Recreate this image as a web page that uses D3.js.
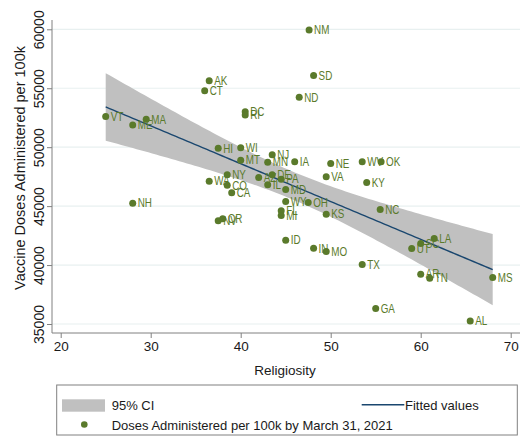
<!DOCTYPE html>
<html><head><meta charset="utf-8">
<script src="https://cdn.jsdelivr.net/npm/d3@7"></script>
<style>
body{margin:0;background:#fff;}
svg{display:block;}
text{font-family:"Liberation Sans",Arial,sans-serif;}
</style></head>
<body><svg id="c" width="528" height="436"></svg>
<script>
const states = ["VT","MA","ME","NH","AK","CT","DC","RI","HI","WI","MT","NJ","MN","IA","NE","VA","NY","WA","CO","CA","DE","AZ","PA","IL","MD","WY","OH","FL","MI","KS","NV","OR","ID","IN","MO","NM","SD","ND","WV","OK","KY","NC","LA","SC","UT","TX","AR","TN","MS","GA","AL"];
const religiosity = [25.0,29.5,28.0,28.0,36.5,36.0,40.5,40.5,37.5,40.0,40.0,43.5,43.0,46.0,50.0,49.5,38.5,36.5,38.5,39.0,43.5,42.0,44.5,43.0,45.0,45.0,47.5,44.5,44.5,49.5,37.5,38.0,45.0,48.1,49.5,47.6,48.1,46.5,53.5,55.6,54.0,55.5,61.5,60.0,59.0,53.5,60.0,61.0,68.0,55.0,65.5];
const doses = [52600,52360,51880,45250,55640,54790,53000,52720,49900,49950,48900,49350,48730,48760,48620,47490,47660,47120,46760,46130,47660,47430,47290,46810,46420,45400,45310,44600,44210,44320,43750,43920,42110,41430,41150,59950,56090,54230,48760,48760,47010,44720,42260,41830,41410,40050,39230,38890,38950,36310,35260];
const xTicks = [20,30,40,50,60,70];
const yTicks = [35000,40000,45000,50000,55000,60000];
const xTitle = "Religiosity";
const yTitle = "Vaccine Doses Administered per 100k";
const legendLabels = ["95% CI","Fitted values","Doses Administered per 100k by March 31, 2021"];

const GREEN = "#5a7a2b", NAVY = "#1a476f", BAND = "#c0c0c0", GRID = "#e8f0f0", AXIS = "#808080";
const svg = d3.select("#c");
const x = d3.scaleLinear().domain([20,70]).range([60.7,510.7]);
const y = d3.scaleLinear().domain([35000,60000]).range([324,29.3]);
const pLeft = 52, pRight = 520, pBottom = 333, pTop = 20;

// gridlines
svg.append("g").selectAll("line").data(yTicks).join("line")
  .attr("x1",pLeft).attr("x2",pRight).attr("y1",d=>y(d)).attr("y2",d=>y(d))
  .attr("stroke",GRID).attr("stroke-width",1.2);

// linear fit with 95% CI (as Stata lfitci)
const n = religiosity.length;
const mx = d3.mean(religiosity), my = d3.mean(doses);
let sxx=0, sxy=0;
for(let i=0;i<n;i++){sxx+=(religiosity[i]-mx)**2; sxy+=(religiosity[i]-mx)*(doses[i]-my);}
const b = sxy/sxx, a = my - b*mx;
let sse=0; for(let i=0;i<n;i++){sse+=(doses[i]-a-b*religiosity[i])**2;}
const s = Math.sqrt(sse/(n-2));
const tcrit = 2.0096;
const xmin = d3.min(religiosity), xmax = d3.max(religiosity);
const grid = d3.range(0,101).map(k=>xmin+(xmax-xmin)*k/100);
const fit = grid.map(v=>{const yh=a+b*v; const se=s*Math.sqrt(1/n+(v-mx)**2/sxx); return {x:v,y:yh,lo:yh-tcrit*se,hi:yh+tcrit*se};});

svg.append("path").datum(fit)
  .attr("d",d3.area().x(d=>x(d.x)).y0(d=>y(d.lo)).y1(d=>y(d.hi)))
  .attr("fill",BAND);
svg.append("path").datum(fit)
  .attr("d",d3.line().x(d=>x(d.x)).y(d=>y(d.y)))
  .attr("fill","none").attr("stroke",NAVY).attr("stroke-width",1.4);

// axes
const yAxis = svg.append("g").attr("transform",`translate(${pLeft},0)`)
  .call(d3.axisLeft(y).tickValues(yTicks).tickSize(5).tickFormat(d3.format("d")));
yAxis.attr("font-family",null);
yAxis.select(".domain").attr("d",`M0,${pTop}V${pBottom}`).attr("stroke",AXIS);
yAxis.selectAll(".tick line").attr("stroke",AXIS);
yAxis.selectAll(".tick text").attr("transform","rotate(-90)").attr("x",0).attr("y",-8).attr("dy",0)
  .attr("text-anchor","middle").attr("font-size",14).attr("fill","#1a1a1a");

const xAxis = svg.append("g").attr("transform",`translate(0,${pBottom})`)
  .call(d3.axisBottom(x).tickValues(xTicks).tickSize(5).tickFormat(d3.format("d")));
xAxis.attr("font-family",null);
xAxis.select(".domain").attr("d",`M${pLeft},0H${pRight}`).attr("stroke",AXIS);
xAxis.selectAll(".tick line").attr("stroke",AXIS);
xAxis.selectAll(".tick text").attr("y",8).attr("dy","0.71em").attr("font-size",13.5).attr("fill","#1a1a1a");

svg.append("text").attr("x",285).attr("y",375).attr("text-anchor","middle")
  .attr("font-size",13.5).attr("fill","#1a1a1a").text(xTitle);
svg.append("text").attr("transform","translate(25,168) rotate(-90)").attr("text-anchor","middle")
  .attr("font-size",14.5).attr("fill","#1a1a1a").text(yTitle);

// scatter
const pts = states.map((st,i)=>({st, x:religiosity[i], y:doses[i]}));
svg.append("g").selectAll("circle").data(pts).join("circle")
  .attr("cx",d=>x(d.x)).attr("cy",d=>y(d.y)).attr("r",3.5).attr("fill",GREEN);
svg.append("g").selectAll("text").data(pts).join("text")
  .attr("x",d=>x(d.x)+5).attr("y",d=>y(d.y)+4.3)
  .attr("font-size",12).attr("fill",GREEN).text(d=>d.st)
  .each(function(){
    const w = this.getComputedTextLength();
    d3.select(this).attr("textLength",(w*0.82).toFixed(2)).attr("lengthAdjust","spacingAndGlyphs");
  });

// legend
const lg = svg.append("g");
lg.append("rect").attr("x",56.7).attr("y",385).attr("width",460.6).attr("height",50)
  .attr("fill","#fff").attr("stroke",AXIS).attr("stroke-width",1);
lg.append("rect").attr("x",62).attr("y",399.3).attr("width",43).attr("height",12.4).attr("fill",BAND);
lg.append("text").attr("x",111.7).attr("y",410).attr("font-size",13).attr("fill","#1a1a1a").text(legendLabels[0]);
lg.append("line").attr("x1",361.7).attr("x2",404.3).attr("y1",404.7).attr("y2",404.7).attr("stroke",NAVY).attr("stroke-width",1.4);
lg.append("text").attr("x",405).attr("y",410).attr("font-size",13).attr("fill","#1a1a1a").text(legendLabels[1]);
lg.append("circle").attr("cx",84.3).attr("cy",424.5).attr("r",3.3).attr("fill",GREEN);
lg.append("text").attr("x",111.7).attr("y",430).attr("font-size",13).attr("fill","#1a1a1a").text(legendLabels[2]);
</script></body></html>
